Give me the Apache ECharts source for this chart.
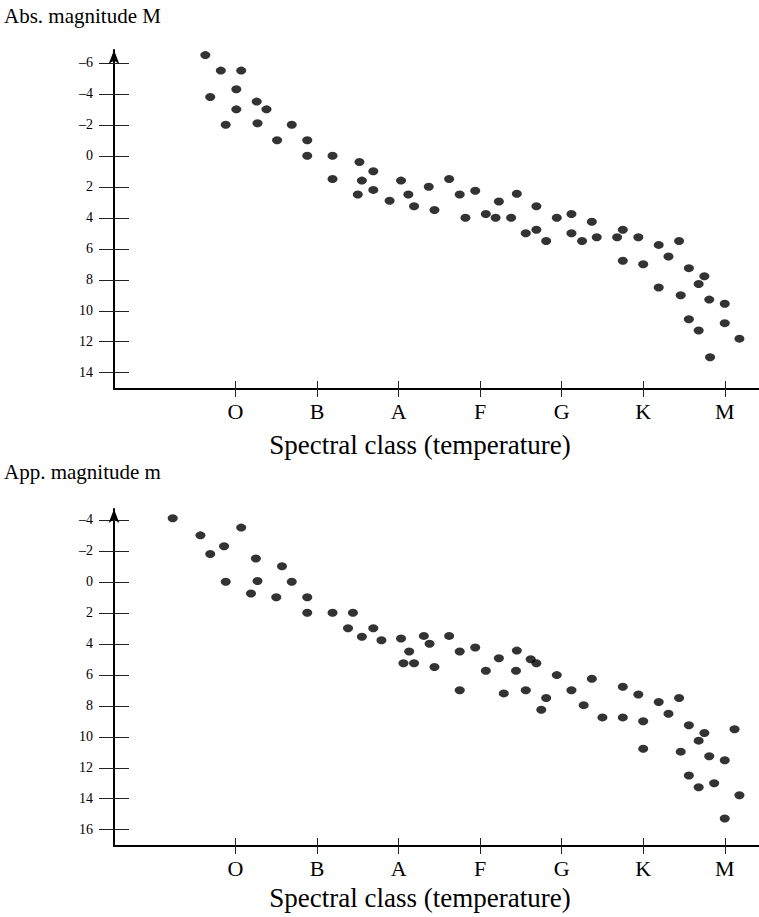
<!DOCTYPE html>
<html>
<head>
<meta charset="utf-8">
<script src="https://cdn.jsdelivr.net/npm/echarts@6/dist/echarts.min.js"></script>
<style>
html,body{margin:0;padding:0;background:#fff;}
#chart{width:759px;height:917px;}
</style>
</head>
<body>
<div id="chart"></div>
<script>
// Spectral classes (O=0 ... M=6)
const classes = ['O','B','A','F','G','K','M'];
const classPos = [0,1,2,3,4,5,6];
const absTicks = [-6,-4,-2,0,2,4,6,8,10,12,14];
const appTicks = [-4,-2,0,2,4,6,8,10,12,14,16];

// Top panel: absolute magnitude M
const absClass = [-0.37,-0.18,0.07,0.01,-0.31,0.26,0.01,0.38,-0.12,0.27,0.69,0.51,0.88,0.88,1.19,1.19,1.52,1.69,1.55,1.50,1.69,1.89,2.03,2.12,2.19,2.37,2.44,2.62,2.75,2.94,2.82,3.07,3.19,3.23,3.38,3.45,3.69,3.56,3.69,3.81,3.94,4.12,4.12,4.25,4.37,4.43,4.68,4.75,4.75,4.94,5.00,5.19,5.31,5.44,5.19,5.46,5.56,5.75,5.68,5.81,6.00,5.56,5.68,6.00,6.18,5.82];
const absMag   = [-6.5,-5.5,-5.5,-4.3,-3.8,-3.5,-3.0,-3.0,-2.0,-2.1,-2.0,-1.0,-1.0,0.0,0.0,1.5,0.4,1.0,1.6,2.5,2.2,2.9,1.6,2.5,3.25,2.0,3.5,1.5,2.5,2.25,4.0,3.75,4.0,2.95,4.0,2.45,3.25,5.0,4.77,5.5,4.0,3.75,5.0,5.5,4.25,5.25,5.25,4.77,6.77,5.25,7.0,5.75,6.5,5.5,8.5,9.0,7.25,7.77,8.27,9.28,9.55,10.55,11.28,10.8,11.8,13.0];

// Bottom panel: apparent magnitude m
const appClass = [-0.77,-0.43,0.07,-0.14,-0.31,0.25,0.57,-0.12,0.27,0.69,0.19,0.50,0.88,0.88,1.19,1.44,1.38,1.69,1.55,1.79,2.03,2.13,2.06,2.19,2.31,2.38,2.44,2.62,2.75,2.75,2.94,3.07,3.23,3.29,3.44,3.45,3.56,3.62,3.69,3.81,3.75,3.94,4.12,4.27,4.37,4.50,4.75,4.75,4.94,5.00,5.00,5.19,5.31,5.44,5.56,5.75,5.68,5.46,5.81,6.00,6.12,5.56,5.68,5.87,6.18,6.00];
const appMag   = [-4.1,-3.0,-3.5,-2.3,-1.8,-1.5,-1.0,0.0,-0.05,0.0,0.75,1.0,1.0,2.0,2.0,2.0,3.0,3.0,3.55,3.77,3.66,4.5,5.25,5.25,3.49,4.0,5.5,3.49,4.5,7.0,4.24,5.74,4.93,7.2,5.74,4.44,7.0,5.0,5.25,7.5,8.26,6.02,7.0,7.96,6.26,8.75,6.77,8.75,7.27,9.0,10.77,7.76,8.51,7.5,9.26,9.76,10.25,10.96,11.26,11.52,9.52,12.5,13.26,13.0,13.77,15.27];

const FONT = 'Liberation Serif';
const zip = (a,b) => a.map((v,i)=>[v,b[i]]);
const fmtNum = v => v < 0 ? '\u2013' + Math.abs(v) : String(v);

function xAxes(gridIndex){
  const base = {
    gridIndex, type:'value', min:-1.49, max:6.42, position:'bottom',
    splitLine:{show:false}
  };
  return [
    Object.assign({}, base, {
      axisLine:{show:true, onZero:false, lineStyle:{color:'#000', width:2}},
      axisTick:{show:true, inside:false, length:8, customValues:classPos, lineStyle:{color:'#222', width:1}},
      axisLabel:{show:true, customValues:classPos, margin:11, fontFamily:FONT, fontSize:22, color:'#000',
        formatter: v => classes[Math.round(v)]}
    }),
    Object.assign({}, base, {
      axisLine:{show:false, onZero:false},
      axisTick:{show:true, inside:true, length:8, customValues:classPos, lineStyle:{color:'#222', width:1}},
      axisLabel:{show:false}
    })
  ];
}
function yAxes(gridIndex, min, max, ticks){
  const base = {
    gridIndex, type:'value', min, max, inverse:true, position:'left',
    splitLine:{show:false}
  };
  return [
    Object.assign({}, base, {
      axisLine:{show:true, onZero:false, lineStyle:{color:'#000', width:2},
        symbol:['none','arrow'], symbolSize:[8,14]},
      axisTick:{show:true, inside:false, length:15, customValues:ticks, lineStyle:{color:'#222', width:1}},
      axisLabel:{show:true, customValues:ticks, margin:21, fontFamily:FONT, fontSize:14, color:'#000',
        formatter: fmtNum}
    }),
    Object.assign({}, base, {
      axisLine:{show:false, onZero:false},
      axisTick:{show:true, inside:true, length:15, customValues:ticks, lineStyle:{color:'#222', width:1}},
      axisLabel:{show:false}
    })
  ];
}

const chart = echarts.init(document.getElementById('chart'), null, {renderer:'svg'});
const titleStyle = {fontFamily:FONT, fontSize:21, fontWeight:'normal', color:'#000'};
const nameStyle = {fontFamily:FONT, fontSize:27, fontWeight:'normal', color:'#000'};
chart.setOption({
  backgroundColor:'#fff',
  animation:false,
  title:[
    {text:'Abs. magnitude M', left:4, top:5, textStyle:titleStyle, padding:0},
    {text:'Spectral class (temperature)', left:420, top:431, textAlign:'center', textStyle:nameStyle, padding:0},
    {text:'App. magnitude m', left:4, top:461, textStyle:titleStyle, padding:0},
    {text:'Spectral class (temperature)', left:420, top:884, textAlign:'center', textStyle:nameStyle, padding:0}
  ],
  grid:[
    {left:114, right:0, top:50, height:339},
    {left:114, right:0, top:509, height:337}
  ],
  xAxis:[...xAxes(0), ...xAxes(1)],
  yAxis:[...yAxes(0, -6.83, 15.05, absTicks), ...yAxes(1, -4.70, 17.05, appTicks)],
  series:[
    {type:'scatter', xAxisIndex:0, yAxisIndex:0, data:zip(absClass, absMag),
     symbol:'circle', symbolSize:[10,8], itemStyle:{color:'#000'}, silent:true},
    {type:'scatter', xAxisIndex:2, yAxisIndex:2, data:zip(appClass, appMag),
     symbol:'circle', symbolSize:[10,8], itemStyle:{color:'#000'}, silent:true}
  ]
});
</script>
</body>
</html>
